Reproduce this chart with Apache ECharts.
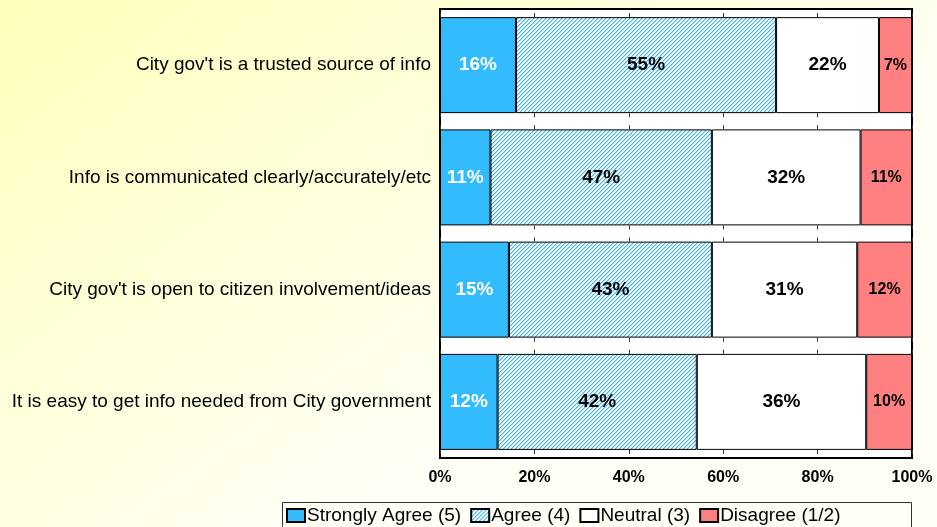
<!DOCTYPE html>
<html>
<head>
<meta charset="utf-8">
<script src="https://cdn.jsdelivr.net/npm/echarts@6/dist/echarts.min.js"></script>
<style>
    html, body { margin: 0; padding: 0; }
    #chart_1 { width: 937px; height: 527px; }
</style>
</head>
<body>
<div id="chart_1"></div>
<script>
var categories = [
    "City gov't is a trusted source of info",
    "Info is communicated clearly/accurately/etc",
    "City gov't is open to citizen involvement/ideas",
    "It is easy to get info needed from City government"
];
var seriesNames = ['Strongly Agree (5)', 'Agree (4)', 'Neutral (3)', 'Disagree (1/2)'];
var stronglyAgree = [16.1, 10.7, 14.6, 12.2];
var agree = [55.1, 46.9, 43.0, 42.2];
var neutral = [21.8, 31.5, 30.8, 35.9];
var disagree = [7.0, 10.9, 11.6, 9.7];
var xTicks = [0, 20, 40, 60, 80, 100];

// hatch pattern for "Agree"
function hatch() {
    var c = document.createElement('canvas');
    c.width = 4;
    c.height = 4;
    var ctx = c.getContext('2d');
    ctx.fillStyle = '#ffffff';
    ctx.fillRect(0, 0, 4, 4);
    for (var x = 0; x < 4; x++) {
        for (var y = 0; y < 4; y++) {
            if ((x + y) % 4 == 3) {
                ctx.fillStyle = '#33bbff';
                ctx.fillRect(x, y, 1, 1);
            } else if ((x + y) % 4 == 0) {
                ctx.fillStyle = '#a6defc';
                ctx.fillRect(x, y, 1, 1);
            }
        }
    }
    return { image: c, repeat: 'repeat' };
}

var myChart = echarts.init(document.getElementById('chart_1'));

var font = 'Arial, "Liberation Sans", sans-serif';

function pct(p) {
    return Math.round(p.value) + '%';
}

function barSeries(name, data, color, labelColor, labelSize) {
    return {
        name: name,
        type: 'bar',
        stack: 'total',
        barWidth: 96,
        data: data,
        itemStyle: { color: color, borderColor: '#000', borderWidth: 1 },
        label: {
            show: true,
            position: 'inside',
            formatter: pct,
            color: labelColor,
            fontWeight: 'bold',
            fontSize: labelSize,
            fontFamily: font
        }
    };
}

var option = {
    backgroundColor: {
        type: 'linear', x: 0, y: 0, x2: 0.4, y2: 1,
        colorStops: [
            { offset: 0, color: '#ffffbb' },
            { offset: 1, color: '#fffff8' }
        ]
    },
    animation: false,
    grid: {
        left: 440,
        right: 25,
        top: 9,
        bottom: 69,
        show: true,
        backgroundColor: '#fff',
        borderColor: '#000',
        borderWidth: 2
    },
    legend: {
        data: seriesNames,
        left: 286,
        top: 506,
        padding: 0,
        itemWidth: 18,
        itemHeight: 13,
        itemGap: 9,
        icon: 'rect',
        textStyle: { fontSize: 19, color: '#000', fontFamily: font, padding: [0, 0, 0, -3] }
    },
    graphic: [{
        type: 'rect',
        shape: { x: 282.5, y: 502.5, width: 629, height: 40 },
        style: { fill: 'rgba(0,0,0,0)', stroke: '#333', lineWidth: 1 },
        silent: true
    }],
    xAxis: {
        type: 'value',
        min: xTicks[0],
        max: xTicks[xTicks.length - 1],
        interval: 20,
        axisLine: { show: false },
        axisTick: { show: false },
        axisLabel: {
            formatter: '{value}%',
            color: '#000',
            fontWeight: 'bold',
            fontSize: 16,
            fontFamily: font,
            margin: 12
        },
        splitLine: {
            show: true,
            lineStyle: { color: '#333', width: 1, type: [4, 96.25, 4, 8], dashOffset: 108.25 }
        }
    },
    yAxis: {
        type: 'category',
        inverse: true,
        data: categories,
        axisLine: { show: false },
        axisTick: { show: false },
        axisLabel: {
            color: '#000',
            fontSize: 19,
            fontFamily: font,
            margin: 9
        }
    },
    series: [
        barSeries(seriesNames[0], stronglyAgree, '#33bbff', '#fff', 19),
        barSeries(seriesNames[1], agree, hatch(), '#000', 19),
        barSeries(seriesNames[2], neutral, '#ffffff', '#000', 19),
        barSeries(seriesNames[3], disagree, '#ff8080', '#000', 16)
    ]
};

option && myChart.setOption(option);
</script>
</body>
</html>
